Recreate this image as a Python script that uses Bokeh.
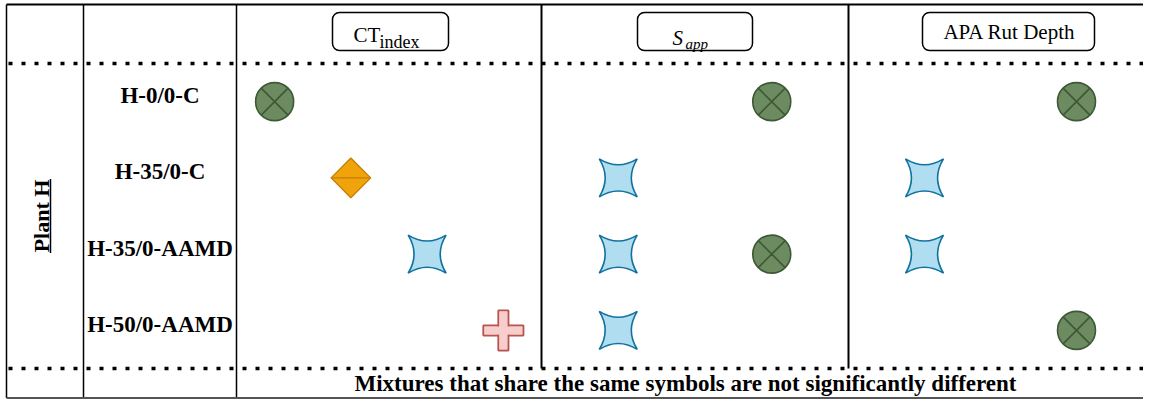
import math
from bokeh.plotting import figure
from bokeh.models import Range1d, BoxAnnotation
from bokeh.core.properties import value
from bokeh.embed import file_html
from bokeh.resources import INLINE

# ---------------- data ----------------
plant = "Plant H"
mixtures = ["H-0/0-C", "H-35/0-C", "H-35/0-AAMD", "H-50/0-AAMD"]
metrics = ["CT_index", "S_app", "APA Rut Depth"]
# statistical grouping letters (mixtures sharing a letter are not significantly different)
ct_index_groups = ["A", "B", "C", "D"]
s_app_groups = ["A", "C", "AC", "C"]
apa_groups = ["A", "C", "C", "A"]
# left-to-right order of the group slots inside each metric panel
ct_index_slots = ["A", "B", "C", "D"]
s_app_slots = ["C", "A"]
apa_slots = ["C", "A"]
footnote = "Mixtures that share the same symbols are not significantly different"

# ---------------- layout ----------------
FONT = value("Liberation Serif")
X_PLANT, X_LABEL, X_CT, X_SAPP, X_APA, X_RIGHT = 6, 83, 236, 541, 848, 1152
Y_TOP, Y_HEAD, Y_FOOT, Y_BOT = 4, 63, 368, 397.5
XMAX = 1143

p = figure(width=1143, height=399, x_range=Range1d(0, XMAX), y_range=Range1d(399, 0),
           output_backend="svg", toolbar_location=None, min_border=0)
p.axis.visible = False
p.grid.visible = False
p.outline_line_color = None
p.background_fill_color = "white"
p.border_fill_color = "white"

# frame lines
full_x = [X_PLANT, X_LABEL, X_CT]
p.segment(x0=full_x, y0=[Y_TOP] * 3, x1=full_x, y1=[Y_BOT] * 3, line_color="black", line_width=1.5)
mid_x = [X_SAPP, X_APA]
p.segment(x0=mid_x, y0=[Y_TOP] * 2, x1=mid_x, y1=[Y_FOOT] * 2, line_color="black", line_width=2)
p.segment(x0=[X_PLANT], y0=[Y_TOP], x1=[XMAX], y1=[Y_TOP], line_color="black", line_width=2)
p.segment(x0=[X_PLANT], y0=[Y_BOT], x1=[XMAX], y1=[Y_BOT], line_color="#555555", line_width=2)
p.segment(x0=[X_PLANT + 2] * 2, y0=[Y_HEAD, Y_FOOT], x1=[XMAX] * 2, y1=[Y_HEAD, Y_FOOT],
          line_color="black", line_width=3.5, line_dash="4 9", line_cap="butt")

# header boxes
for l, r in [(332, 448), (637, 752), (922, 1094)]:
    p.add_layout(BoxAnnotation(left=l, right=r, top=12, bottom=50, fill_color=None,
                               line_color="black", line_alpha=1.0, line_width=1.5, border_radius=7))

p.text(x=[353], y=[34], text=["CT"], text_font=FONT, text_font_size="21px",
       text_align="left", text_baseline="alphabetic", text_color="black")
p.text(x=[379], y=[41], text=["index"], text_font=FONT, text_font_size="18px",
       text_align="left", text_baseline="alphabetic", text_color="black")
p.text(x=[672], y=[37], text=["S"], text_font=FONT, text_font_size="21px", text_font_style="italic",
       text_align="left", text_baseline="alphabetic", text_color="black")
p.text(x=[685], y=[43], text=["app"], text_font=FONT, text_font_size="15px", text_font_style="italic",
       text_align="left", text_baseline="alphabetic", text_color="black")
p.text(x=[1009], y=[31], text=["APA Rut Depth"], text_font=FONT, text_font_size="21px",
       text_align="center", text_baseline="middle", text_color="black")

# row labels
row_h = (Y_FOOT - Y_HEAD) / len(mixtures)
row_y = [Y_HEAD + (j + 0.5) * row_h for j in range(len(mixtures))]
p.text(x=[(X_LABEL + X_CT) / 2] * len(mixtures), y=[y - 6 for y in row_y], text=mixtures,
       text_font=FONT, text_font_size="23px", text_font_style="bold",
       text_align="center", text_baseline="middle", text_color="black")

# plant label (rotated, underlined)
py = (Y_HEAD + Y_FOOT) / 2
p.text(x=[41], y=[py], text=[plant], angle=math.pi / 2, text_font=FONT, text_font_size="22px",
       text_font_style="bold", text_align="center", text_baseline="middle", text_color="black")
p.segment(x0=[50], y0=[py - 37], x1=[50], y1=[py + 37], line_color="black", line_width=1.5)

# footnote
p.text(x=[685], y=[383], text=[footnote], text_font=FONT, text_font_size="23px",
       text_font_style="bold", text_align="center", text_baseline="middle", text_color="black")

# symbol positions
panels = [(X_CT, X_SAPP, ct_index_groups, ct_index_slots),
          (X_SAPP, X_APA, s_app_groups, s_app_slots),
          (X_APA, X_RIGHT, apa_groups, apa_slots)]
pts = {k: ([], []) for k in "ABCD"}
for left, right, groups, slots in panels:
    w = (right - left) / len(slots)
    for j, g in enumerate(groups):
        for letter in g:
            i = slots.index(letter)
            pts[letter][0].append(left + (i + 0.5) * w)
            pts[letter][1].append(row_y[j])

# A: green circle with X
xa, ya = pts["A"]
p.scatter(xa, ya, marker="circle_x", size=38, fill_color="#6d8b61", line_color="#3d5835", line_width=1.6)
# B: orange diamond with horizontal line
xb, yb = pts["B"]
p.scatter(xb, yb, marker="square", size=28, angle=math.pi / 4, fill_color="#f0a30a",
          line_color="#c47f06", line_width=1.3)
p.scatter(xb, yb, marker="dash", size=40, line_color="#c47f06", line_width=1.3)
# C: blue four-point star
xc, yc = pts["C"]
p.scatter(xc, yc, marker="square_pin", size=38, fill_color="#b1ddf0", line_color="#10739e", line_width=1.6)
# D: red cross
xd, yd = pts["D"]
for wdt, hgt in [(40, 10), (10, 40)]:
    p.rect(xd, yd, width=wdt, height=hgt, width_units="screen", height_units="screen",
           fill_color="#f8cecc", line_color="#b85450", line_width=2)
for wdt, hgt in [(38, 8), (8, 38)]:
    p.rect(xd, yd, width=wdt, height=hgt, width_units="screen", height_units="screen",
           fill_color="#f8cecc", line_color=None)

open("out.html", "w").write(file_html(p, INLINE))
